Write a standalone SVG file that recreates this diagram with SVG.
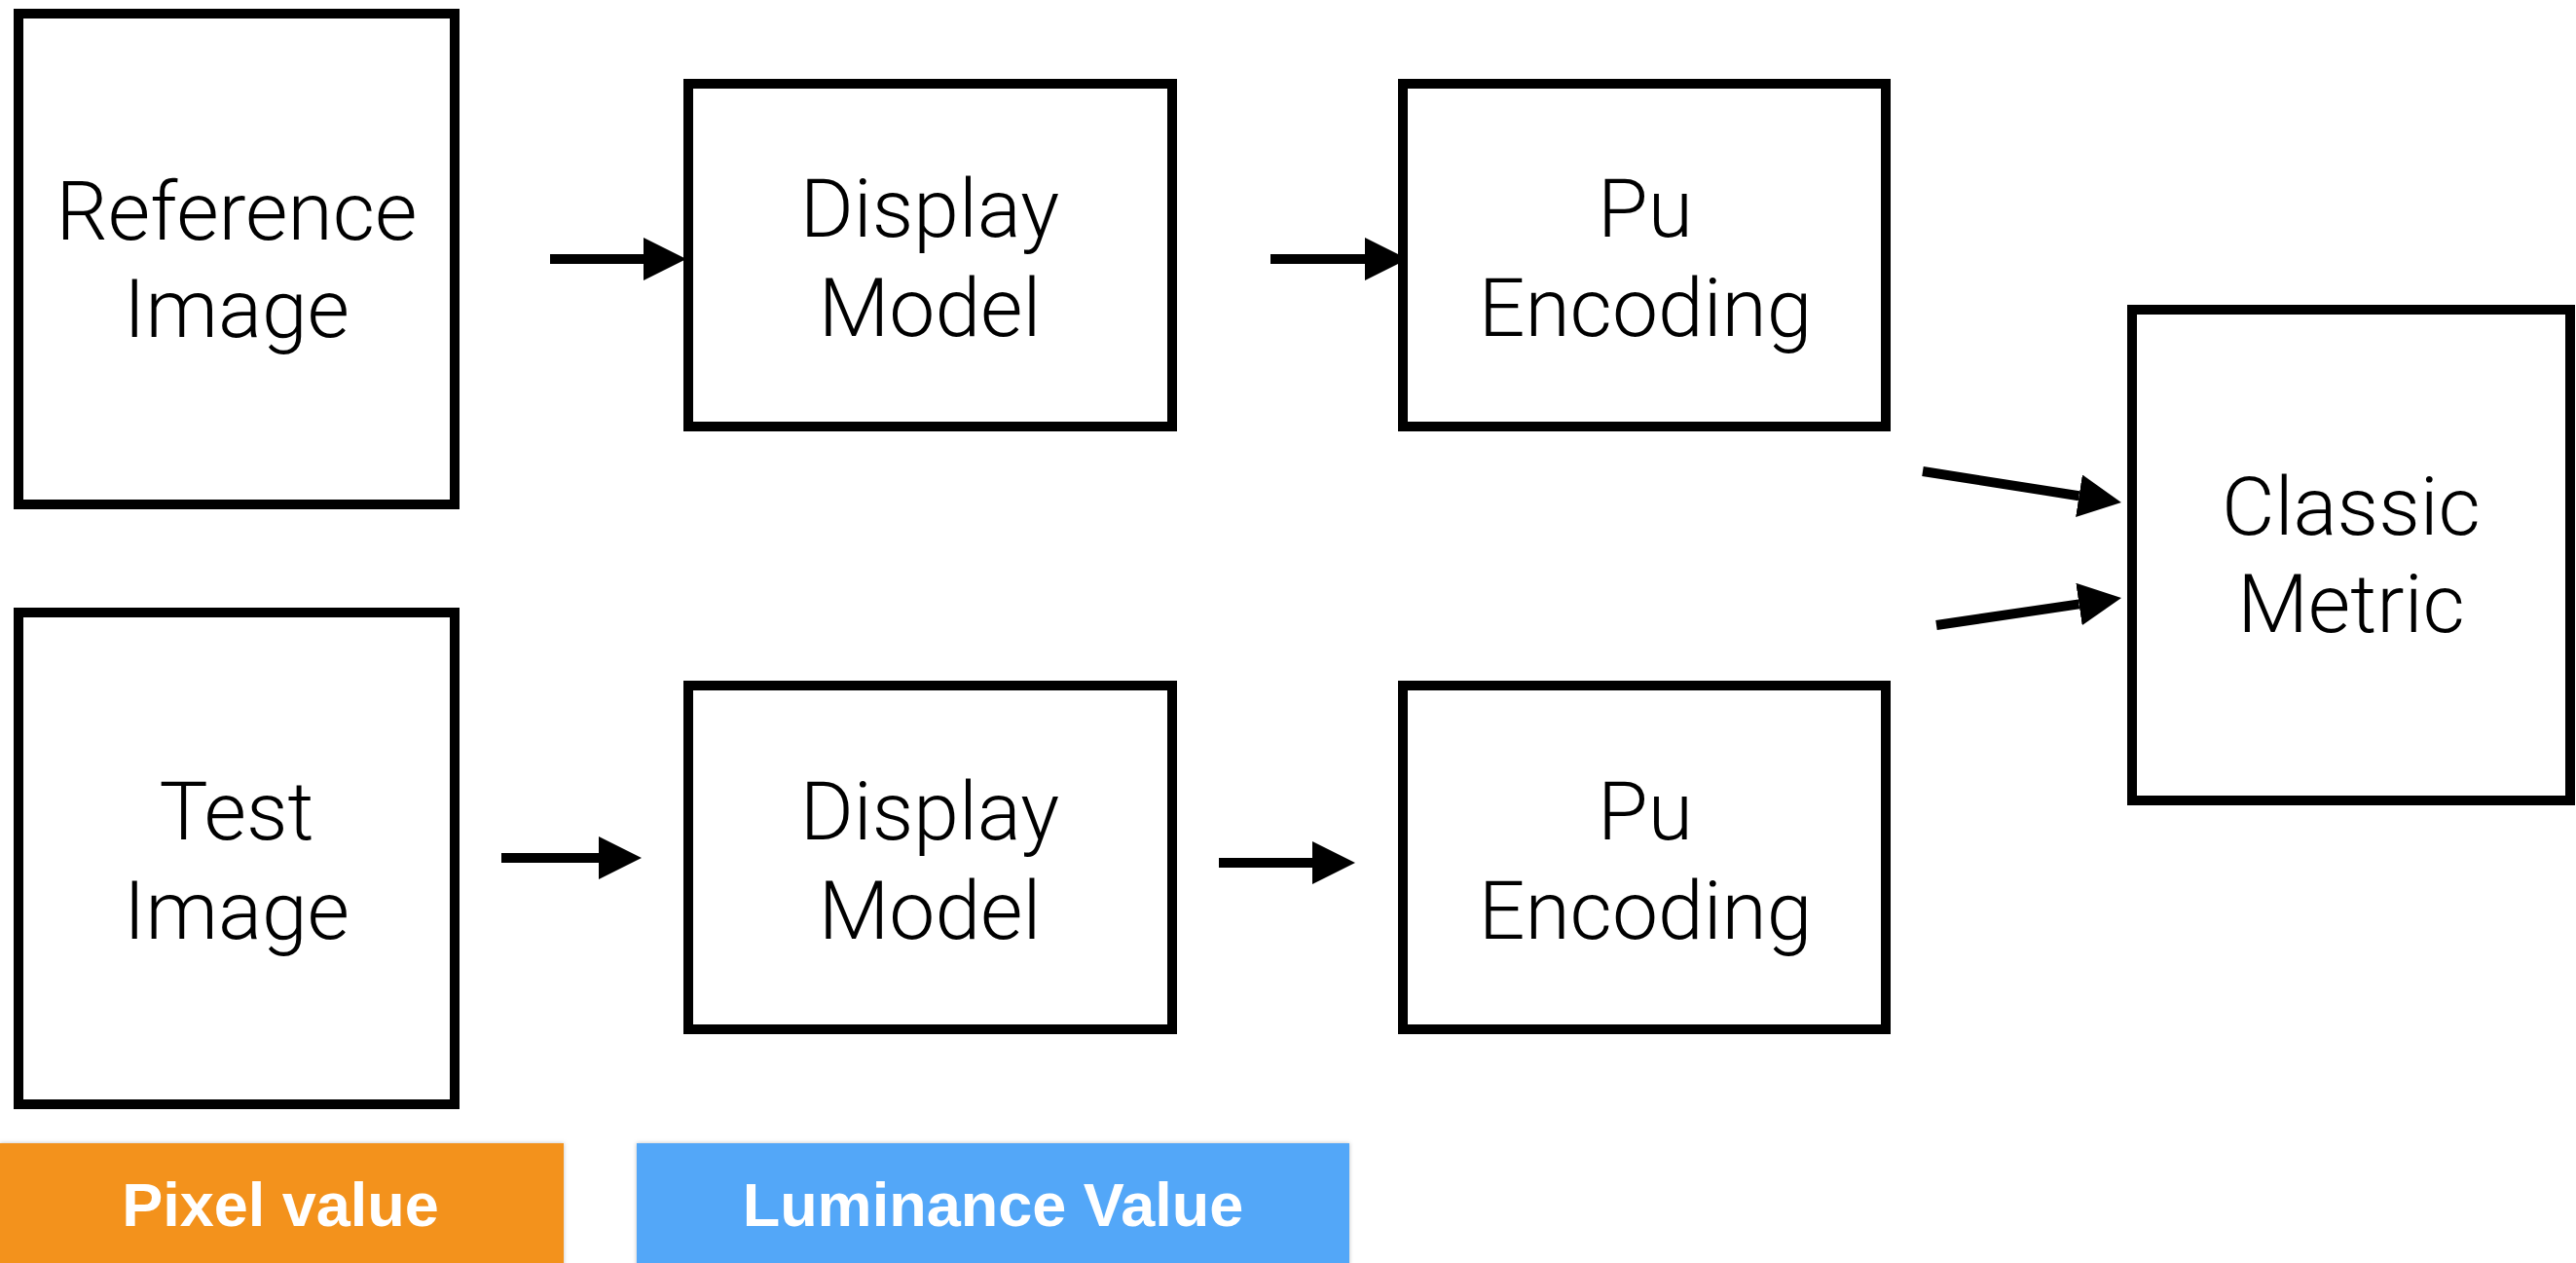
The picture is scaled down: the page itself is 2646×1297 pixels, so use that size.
<svg xmlns="http://www.w3.org/2000/svg" width="2646" height="1297" viewBox="0 0 2646 1297">
  <style>
    .box { fill: #ffffff; stroke: #000000; stroke-width: 10; }
    .lbl { font-family: Roboto, "Liberation Sans", "DejaVu Sans", sans-serif; font-weight: 300; font-size: 84px; fill: #000000; text-anchor: middle; }
    .leg { font-family: "Liberation Sans", Arial, sans-serif; font-weight: bold; font-size: 63px; fill: #ffffff; text-anchor: middle; }
    .conn { stroke: #000000; stroke-width: 10; fill: none; marker-end: url(#head); }
  </style>
  <defs>
    <marker id="head" markerUnits="userSpaceOnUse" markerWidth="44" markerHeight="44" viewBox="0 0 44 44" refX="0" refY="22" orient="auto">
      <path d="M0,0 L44,22 L0,44 Z" fill="#000000"/>
    </marker>
    <filter id="shadow" x="-5%" y="-10%" width="110%" height="130%">
      <feDropShadow dx="0" dy="0" stdDeviation="2" flood-color="#000000" flood-opacity="0.25"/>
    </filter>
  </defs>
  <rect width="2646" height="1297" fill="#ffffff"/>

  <g id="reference-image">
    <rect class="box" x="19" y="14" width="448" height="504"/>
    <text class="lbl" x="243" y="246">Reference</text>
    <text class="lbl" x="243" y="346">Image</text>
  </g>
  <g id="test-image">
    <rect class="box" x="19" y="629" width="448" height="505"/>
    <text class="lbl" x="243" y="862">Test</text>
    <text class="lbl" x="243" y="964">Image</text>
  </g>
  <g id="display-model-top">
    <rect class="box" x="707" y="86" width="497" height="352"/>
    <text class="lbl" x="955" y="243">Display</text>
    <text class="lbl" x="955" y="345">Model</text>
  </g>
  <g id="display-model-bottom">
    <rect class="box" x="707" y="704" width="497" height="353"/>
    <text class="lbl" x="955" y="862">Display</text>
    <text class="lbl" x="955" y="964">Model</text>
  </g>
  <g id="pu-encoding-top">
    <rect class="box" x="1441" y="86" width="496" height="352"/>
    <text class="lbl" x="1690" y="243">Pu</text>
    <text class="lbl" x="1690" y="345">Encoding</text>
  </g>
  <g id="pu-encoding-bottom">
    <rect class="box" x="1441" y="704" width="496" height="353"/>
    <text class="lbl" x="1690" y="862">Pu</text>
    <text class="lbl" x="1690" y="964">Encoding</text>
  </g>
  <g id="classic-metric">
    <rect class="box" x="2190" y="318" width="450" height="504"/>
    <text class="lbl" x="2415" y="549">Classic</text>
    <text class="lbl" x="2415" y="649">Metric</text>
  </g>

  <g id="connectors">
    <line class="conn" x1="565" y1="266" x2="661" y2="266"/>
    <line class="conn" x1="1305" y1="266" x2="1402" y2="266"/>
    <line class="conn" x1="515" y1="881" x2="615" y2="881"/>
    <line class="conn" x1="1252" y1="886" x2="1348" y2="886"/>
    <line class="conn" x1="1975" y1="484" x2="2135.5" y2="509.2"/>
    <line class="conn" x1="1989" y1="642" x2="2135.5" y2="620.4"/>
  </g>

  <g id="legend-pixel-value">
    <rect x="0" y="1174" width="579" height="130" fill="#F3921B" filter="url(#shadow)"/>
    <text class="leg" x="288" y="1259">Pixel value</text>
  </g>
  <g id="legend-luminance-value">
    <rect x="654" y="1174" width="732" height="130" fill="#52A7F8" filter="url(#shadow)"/>
    <text class="leg" x="1020" y="1259">Luminance Value</text>
  </g>
</svg>
